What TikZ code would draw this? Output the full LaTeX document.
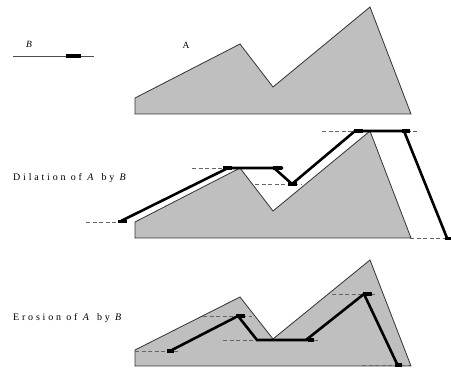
\documentclass[tikz,border=0pt]{standalone}
\usepackage{fontspec}
\setmainfont{Liberation Serif}
\newfontfamily\spaced[LetterSpace=28]{Liberation Serif}
\begin{document}
\begin{tikzpicture}[x=1pt,y=-1pt,
  shapeA/.style={fill=black!25,draw=black!80,line width=0.8pt,line join=miter},
  seg/.style={line width=2.6pt,line join=miter},
  guide/.style={dashed,draw=black!60,line width=0.6pt,dash pattern=on 4pt off 2.5pt},
  mk/.style={fill=black,inner sep=0pt,minimum height=3.8pt,minimum width=#1},
  mk/.default=9pt,
  lbl/.style={anchor=west,inner sep=0pt,font=\spaced\fontsize{10}{12}\selectfont}]
\useasboundingbox (0,0) rectangle (451,369);
% structuring element B
\node[inner sep=0pt,font=\fontsize{9.5}{11}\selectfont\itshape] (lB) at (29,44) {B};
\coordinate (b0) at (13,56); \coordinate (b1) at (94,56);
\draw[black!70,line width=0.7pt] (b0) -- (b1);
\node[mk=15pt,minimum height=4pt] (bo) at (73.5,56) {};
\node[inner sep=0pt,font=\fontsize{9.5}{11}\selectfont] (lA) at (186,45) {A};
% original A
\draw[shapeA] (135,114) -- (135,98) -- (240,44) -- (273,87) -- (370,7) -- (411,114) -- cycle;
% dilation
\node[lbl] (ldil) at (13,178) {Dilation of \textit{A} by \textit{B}};
\draw[shapeA] (135,238) -- (135,222) -- (240,168) -- (273,211) -- (370,131) -- (411,238) -- cycle;
\draw[guide] (86,222) -- (120,222);
\draw[guide] (192,168) -- (225,168);
\draw[guide] (255,184) -- (302,184);
\draw[guide] (322,131) -- (417,131);
\draw[guide] (410,238) -- (446,238);
\draw[seg] (121,221) -- (228,168) -- (283,168);
\draw[seg] (274,168) -- (292,184) -- (355,131) -- (410,131);
\draw[seg] (404,131) -- (447,238);
\node[mk] (d1) at (122.5,221.5) {};
\node[mk] (d2) at (227,168) {};
\node[mk] (d3) at (277.5,168) {};
\node[mk] (d4) at (292.5,184) {};
\node[mk] (d5) at (358,131) {};
\node[mk=8pt] (d6) at (406,131) {};
\node[mk=7pt] (d7) at (448,238.5) {};
% erosion
\node[lbl] (lero) at (13,318) {Erosion of \textit{A} by \textit{B}};
\draw[shapeA] (135,366) -- (135,350) -- (240,297) -- (273,339) -- (370,260) -- (411,366) -- cycle;
\draw[guide] (135,351) -- (180,351);
\draw[guide] (203,316) -- (252,316);
\draw[guide] (223,340) -- (318,340);
\draw[guide] (332,294) -- (377,294);
\draw[guide] (362,365) -- (410,365);
\draw[seg] (170,351) -- (238,316) -- (257,340) -- (313,340);
\draw[seg] (306,340) -- (364,294);
\draw[seg] (364,294) -- (398,366);
\node[mk=7pt] (e1) at (170,351) {};
\node[mk] (e2) at (240.5,316) {};
\node[mk=6pt] (e3) at (310.5,340) {};
\node[mk] (e4) at (367.5,294) {};
\node[mk=7pt] (e5) at (398.5,365) {};
\end{tikzpicture}
\end{document}
